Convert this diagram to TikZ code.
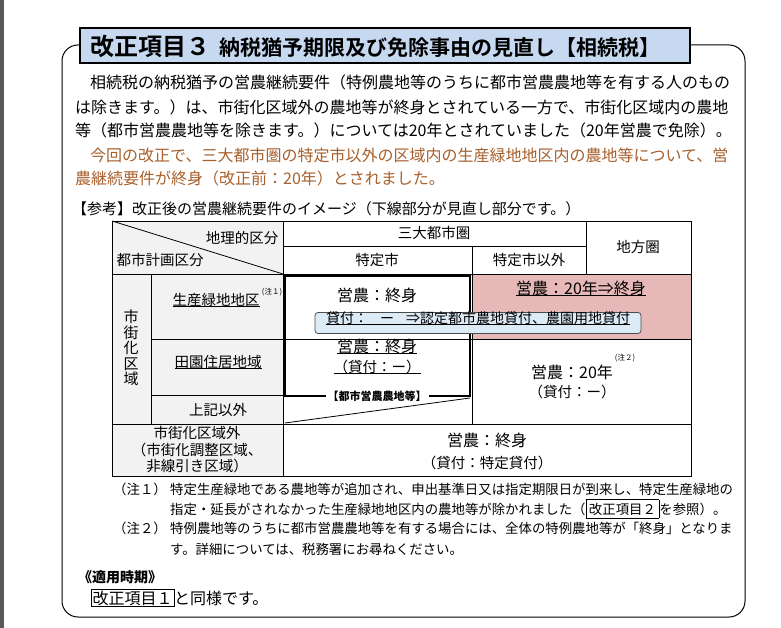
\documentclass[tikz,border=0pt]{standalone}
\usepackage{fontspec}
\setmainfont{Noto Sans CJK JP}
\newfontfamily\jpb{Noto Sans CJK JP}[BoldFont={* Bold}]
\newcommand{\myul}[1]{\underline{\smash{#1}}}
\definecolor{brn}{HTML}{A8602C}
\definecolor{ttl}{HTML}{C6D9F0}
\definecolor{lbl}{HTML}{F2F2F2}
\definecolor{pnk}{HTML}{E6B8B7}
\definecolor{lbl2}{HTML}{DDEBF7}
\tikzset{txt/.style={inner sep=0pt,font=\fontsize{16}{18}\selectfont},
 tb/.style={inner sep=0pt,font=\fontsize{14.5}{17}\selectfont,align=center},
 nt/.style={inner sep=0pt,anchor=west,font=\fontsize{13.4}{15}\selectfont},
 grid/.style={line width=0.8pt}}
\begin{document}
\begin{tikzpicture}[x=1pt,y=-1pt]
\useasboundingbox (0,0) rectangle (781,628);
\fill[white] (0,0) rectangle (781,628);
\fill[black!65] (0,0) rectangle (4,628);
% outer rounded box
\draw[line width=1pt,rounded corners=16pt] (80,45) -- (62,45) -- (62,617) -- (745,617) -- (745,45) -- (690,45);
% title
\node[draw,line width=2pt,fill=ttl,minimum width=610pt,minimum height=35pt,inner sep=0pt] (title) at (385,46) {};
\node[inner sep=0pt,anchor=west] (titletext) at (90,46) {\jpb\bfseries{\fontsize{24}{26}\selectfont 改正項目３}\hspace{9pt}{\fontsize{21}{24}\selectfont 納税猶予期限及び免除事由の見直し【相続税】}};
% body
\node[txt,anchor=west] (l1) at (90,82) {相続税の納税猶予の営農継続要件（特例農地等のうちに都市営農農地等を有する人のもの};
\node[txt,anchor=west] (l2) at (75,107) {は除きます。）は、市街化区域外の農地等が終身とされている一方で、市街化区域内の農地};
\node[txt,anchor=west] (l3) at (75,130) {等（都市営農農地等を除きます。）については20年とされていました（20年営農で免除）。};
\node[txt,anchor=west,text=brn] (l4) at (90,155) {今回の改正で、三大都市圏の特定市以外の区域内の生産緑地地区内の農地等について、営};
\node[txt,anchor=west,text=brn] (l5) at (75,178) {農継続要件が終身（改正前：20年）とされました。};
\node[txt,anchor=west,font=\fontsize{15}{17}\selectfont] (ref) at (72,209) {【参考】改正後の営農継続要件のイメージ（下線部分が見直し部分です。）};
% table fills
\fill[lbl] (112,221) rectangle (283,476);
\fill[pnk] (472,274) rectangle (691,339);
% grid
\draw[grid] (112,221) rectangle (691,476);
\draw[grid] (283,221) -- (283,476);
\draw[grid] (151,274) -- (151,424);
\draw[grid] (112,274) -- (691,274);
\draw[grid] (283,246) -- (586,246);
\draw[grid] (586,221) -- (586,274);
\draw[grid] (472,246) -- (472,424);
\draw[grid] (151,339) -- (691,339);
\draw[grid] (151,395) -- (283,395);
\draw[grid] (112,424) -- (691,424);
\draw[grid] (112,221) -- (283,274);
% thick box
\draw[line width=2.2pt] (285,276) rectangle (470,396);
\draw[line width=0.8pt] (470,398) -- (285,423);
\node[inner sep=2pt,fill=white,font=\fontsize{11}{12}\selectfont\bfseries] (tag) at (377,396) {【都市営農農地等】};
% header texts
\node[tb] (h1) at (242,238) {地理的区分};
\node[tb] (h2) at (160,260) {都市計画区分};
\node[tb] (h3) at (434,233) {三大都市圏};
\node[tb] (h4) at (377,260) {特定市};
\node[tb] (h5) at (529,260) {特定市以外};
\node[tb] (h6) at (638,247) {地方圏};
\node[tb,text width=16pt,font=\fontsize{15}{15.5}\selectfont] (v) at (131,348) {市\\街\\化\\区\\域};
\node[tb] (r1) at (216,306) {\myul{生産緑地地区}};
\node[inner sep=0pt,font=\fontsize{7.5}{9}\selectfont] (n1) at (272,292) {(注１)};
\node[tb] (r2) at (218,368) {\myul{田園住居地域}};
\node[tb] (r3) at (218,410) {上記以外};
\node[tb,font=\fontsize{14.5}{16.5}\selectfont] (r4) at (197,450) {市街化区域外\\（市街化調整区域、\\非線引き区域）};
% cells
\node[tb,font=\fontsize{16}{18}\selectfont] (c1) at (377,295) {営農：終身};
\node[tb,font=\fontsize{16}{18}\selectfont] (c2) at (581,295) {\myul{営農：20年⇒終身}};
\node[draw=black!70,line width=0.8pt,rounded corners=3pt,fill=lbl2,minimum width=326pt,minimum height=21pt,inner sep=0pt] (loan) at (478,323) {};
\node[tb,font=\fontsize{14}{16}\selectfont] (loant) at (478,324) {\myul{貸付：\hspace{12pt}ー\hspace{12pt}⇒認定都市農地貸付、農園用地貸付}};
\node[tb,font=\fontsize{16}{18}\selectfont] (c3) at (377,353) {\myul{営農：終身}};
\node[tb] (c4) at (377,373) {\myul{（貸付：ー）}};
\node[tb,font=\fontsize{16}{18}\selectfont] (c5) at (572,372) {営農：20年};
\node[inner sep=0pt,font=\fontsize{7.5}{9}\selectfont] (n2) at (625,358) {(注２)};
\node[tb] (c6) at (572,392) {（貸付：ー）};
\node[tb,font=\fontsize{16}{18}\selectfont] (c7) at (487,440) {営農：終身};
\node[tb] (c8) at (487,463) {（貸付：特定貸付）};
% notes
\node[nt] (a1) at (113,489) {（注１）};
\node[nt] (a2) at (170,489) {特定生産緑地である農地等が追加され、申出基準日又は指定期限日が到来し、特定生産緑地の};
\node[nt] (a3) at (170,509) {指定・延長がされなかった生産緑地地区内の農地等が除かれました（\fbox{改正項目２}を参照）。};
\node[nt] (a4) at (113,528) {（注２）};
\node[nt] (a5) at (170,528) {特例農地等のうちに都市営農農地等を有する場合には、全体の特例農地等が「終身」となりま};
\node[nt] (a6) at (170,549) {す。詳細については、税務署にお尋ねください。};
\node[nt,font=\fontsize{14}{16}\selectfont\bfseries] (p1) at (78,577) {《適用時期》};
\node[txt,anchor=west] (p2) at (91,598) {\setlength{\fboxsep}{1pt}\fbox{改正項目１}と同様です。};
\end{tikzpicture}
\end{document}
